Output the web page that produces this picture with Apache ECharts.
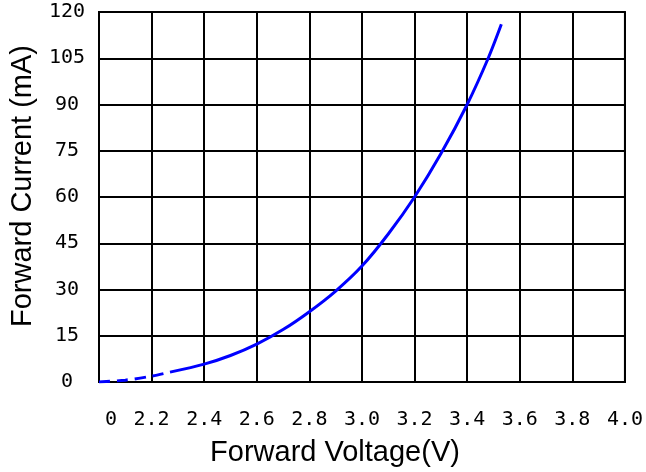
<!DOCTYPE html>
<html>
<head>
<meta charset="utf-8">
<script src="https://cdn.jsdelivr.net/npm/echarts@6/dist/echarts.min.js"></script>
<style>
html,body{margin:0;padding:0;background:#fff;}
#chart{width:646px;height:472px;}
</style>
</head>
<body>
<div id="chart"></div>
<script>
// Forward voltage (V) vs forward current (mA)
const dashedVoltage = [2.0, 2.1, 2.2, 2.27];
const dashedCurrent = [0, 0.6, 1.9, 3.2];
const solidVoltage = [2.27, 2.4, 2.5, 2.6, 2.7, 2.8, 2.9, 3.0, 3.1, 3.2, 3.3, 3.4, 3.48, 3.53];
const solidCurrent = [3.2, 5.8, 8.6, 12.3, 17, 22.8, 29.5, 37.6, 48, 60, 74, 90, 105, 116];
const xTickLabels = ['0', '2.2', '2.4', '2.6', '2.8', '3.0', '3.2', '3.4', '3.6', '3.8', '4.0'];
const yTicks = [0, 15, 30, 45, 60, 75, 90, 105, 120];

const zip = (a, b) => a.map((v, i) => [v, b[i]]);

const chart = echarts.init(document.getElementById('chart'));
const monoFont = 'DejaVu Sans Mono';
chart.setOption({
  animation: false,
  backgroundColor: '#ffffff',
  grid: {
    left: 99, right: 19, top: 12, bottom: 89,
    show: true, borderColor: '#000', borderWidth: 2
  },
  xAxis: {
    type: 'value',
    min: 2.0, max: 4.0, interval: 0.2,
    axisLine: { show: true, lineStyle: { color: '#000', width: 2 } },
    axisTick: { show: false },
    splitLine: { show: true, lineStyle: { color: '#000', width: 2 } },
    axisLabel: {
      margin: 28,
      color: '#000',
      fontFamily: monoFont,
      fontSize: 20,
      formatter: function (v) {
        const i = Math.round((v - 2.0) / 0.2);
        return i === 0 ? '{first|' + xTickLabels[0] + '}' : xTickLabels[i];
      },
      rich: {
        first: { fontFamily: monoFont, fontSize: 20, color: '#000', padding: [0, 0, 0, 24] }
      }
    },
    name: 'Forward Voltage(V)',
    nameLocation: 'middle',
    nameGap: 56,
    nameTextStyle: {
      color: '#000', fontFamily: 'Liberation Sans', fontSize: 29,
      padding: [0, 54, 0, 0]
    }
  },
  yAxis: {
    type: 'value',
    min: 0, max: 120, interval: 15,
    axisLine: { show: true, lineStyle: { color: '#000', width: 2 } },
    axisTick: { show: false },
    splitLine: { show: true, lineStyle: { color: '#000', width: 2 } },
    axisLabel: {
      margin: 32,
      align: 'center',
      color: '#000',
      fontFamily: monoFont,
      fontSize: 20,
      formatter: function (v) { return yTicks.indexOf(v) >= 0 ? String(v) : ''; }
    },
    name: 'Forward Current (mA)',
    nameLocation: 'middle',
    nameRotate: 90,
    nameGap: 62,
    nameTextStyle: {
      color: '#000', fontFamily: 'Liberation Sans', fontSize: 29,
      padding: [0, 0, 0, 22]
    }
  },
  series: [
    {
      type: 'line',
      data: zip(dashedVoltage, dashedCurrent),
      smooth: 0.3,
      showSymbol: false,
      lineStyle: { color: '#0000ff', width: 3, type: [11, 7] },
      z: 5
    },
    {
      type: 'line',
      data: zip(solidVoltage, solidCurrent),
      smooth: 0.3,
      showSymbol: false,
      lineStyle: { color: '#0000ff', width: 3 },
      z: 5
    }
  ]
});
</script>
</body>
</html>
